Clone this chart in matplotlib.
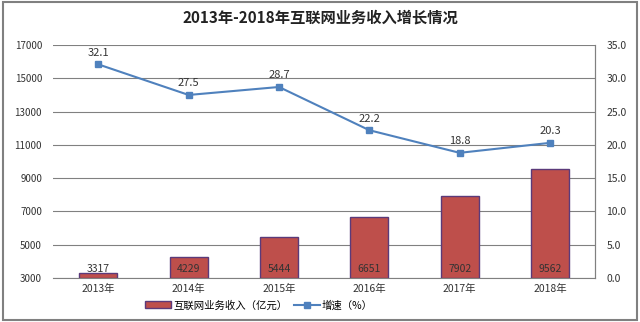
import matplotlib
matplotlib.use("Agg")
import matplotlib.pyplot as plt
from matplotlib.patches import Rectangle

plt.rcParams['font.family'] = ['Noto Sans CJK SC', 'DejaVu Sans']

years = ['2013年', '2014年', '2015年', '2016年', '2017年', '2018年']
revenue = [3317, 4229, 5444, 6651, 7902, 9562]
growth = [32.1, 27.5, 28.7, 22.2, 18.8, 20.3]
left_ticks = [3000, 5000, 7000, 9000, 11000, 13000, 15000, 17000]
right_ticks = [0, 5, 10, 15, 20, 25, 30, 35]

fig = plt.figure(figsize=(6.4, 3.22), dpi=100)
fig.patch.set_facecolor('white')
fig.add_artist(Rectangle((0.004, 0.006), 0.992, 0.988, transform=fig.transFigure,
                         fill=False, edgecolor='#808080', linewidth=1.5))

ax = fig.add_axes([0.083, 0.137, 0.847, 0.723])
x = list(range(len(years)))
bars = ax.bar(x, [r - 3000 for r in revenue], bottom=3000, width=0.42,
              color='#BE4F4B', edgecolor='#5B3A7A', linewidth=1.0, zorder=3,
              label='互联网业务收入（亿元）')
ax.set_ylim(3000, 17000)
ax.set_xlim(-0.5, len(years) - 0.5)
ax.set_yticks(left_ticks)
ax.set_yticklabels([str(t) for t in left_ticks], fontsize=7, color='#333333')
ax.set_xticks(x)
ax.set_xticklabels(years, fontsize=7.5, color='#333333')
ax.grid(axis='y', color='#808080', linewidth=0.8, zorder=0)
ax.tick_params(axis='y', length=0, pad=8)
ax.tick_params(axis='x', length=0, pad=4)
for s in ['top', 'left']:
    ax.spines[s].set_visible(False)
ax.spines['bottom'].set_color('#808080')
ax.spines['right'].set_color('#808080')
for xi, r in zip(x, revenue):
    ax.text(xi, 3250, str(r), ha='center', va='bottom', fontsize=7.5, color='#333333', zorder=5)

ax2 = ax.twinx()
ax2.plot(x, growth, color='#4F81BD', marker='s', markersize=4,
         markerfacecolor='#4F81BD', linewidth=1.5, zorder=4, label='增速（%）')
ax2.set_ylim(0, 35)
ax2.set_yticks(right_ticks)
ax2.set_yticklabels(['%.1f' % t for t in right_ticks], fontsize=7.5, color='#333333')
ax2.tick_params(axis='y', length=0, pad=8)
for s in ['top', 'left', 'bottom']:
    ax2.spines[s].set_visible(False)
ax2.spines['right'].set_color('#808080')
for xi, g in zip(x, growth):
    ax2.text(xi, g + 1.0, '%.1f' % g, ha='center', va='bottom', fontsize=8, color='#333333')

fig.text(0.5, 0.947, '2013年-2018年互联网业务收入增长情况', ha='center', va='center',
         fontsize=11, fontweight='bold', color='#222222')

h1, l1 = ax.get_legend_handles_labels()
h2, l2 = ax2.get_legend_handles_labels()
fig.legend(h1 + h2, l1 + l2, loc='center', bbox_to_anchor=(0.405, 0.052), ncol=2,
           frameon=False, fontsize=7.5, handlelength=2.5, columnspacing=0.6,
           handletextpad=0.2)

fig.savefig('out.png', dpi=100, facecolor='white')
